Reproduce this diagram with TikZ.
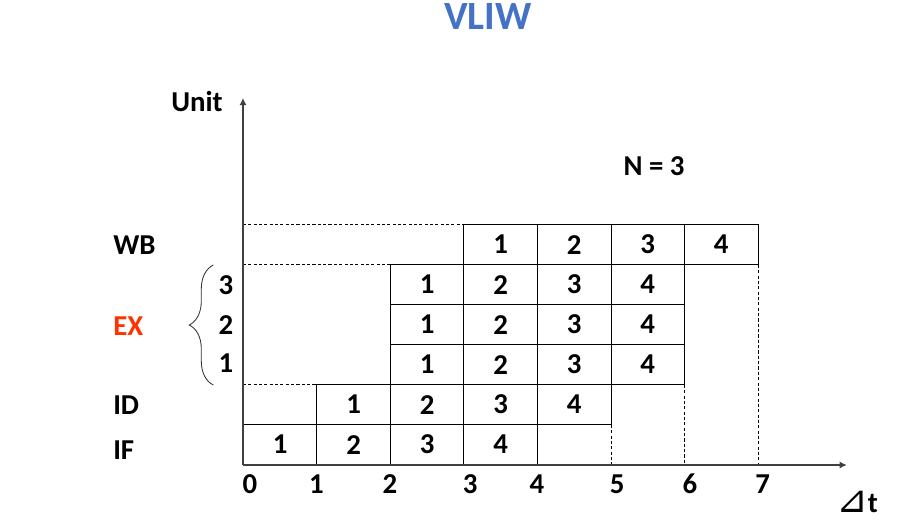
\documentclass[tikz,border=0pt]{standalone}
\usepackage{fontspec}
\setmainfont{Carlito}
\newfontfamily\symfont{DejaVu Sans}
\usepackage{tikz}
\usetikzlibrary{positioning, arrows.meta, decorations.pathreplacing}
\definecolor{titleblue}{RGB}{68,114,196}
\definecolor{exred}{RGB}{255,51,0}

\begin{document}
\begin{tikzpicture}[x=1.8375cm, y=1cm,
    cell/.style={draw, line width=0.6pt, minimum width=1.8375cm, minimum height=1cm, inner sep=0pt, anchor=south west, font=\fontsize{20.5}{24}\selectfont\bfseries},
    txt/.style={font=\fontsize{20.5}{24}\selectfont\bfseries, inner sep=0pt},
    guide/.style={line width=0.5pt, dash pattern=on 2.2pt off 1.6pt},
    axis/.style={line width=0.9pt, black!75, -{Latex[length=1.8mm,width=1.8mm]}}]
  \useasboundingbox (-3.3061,-1.575) rectangle (8.9932,11.625);
  \coordinate (O) at (0,0);
  \coordinate (xend) at (8.214,0);
  \coordinate (yend) at (0,9.175);

  % pipeline cells: stage/row/first column
  \foreach \s/\r/\c in {if/0/0, id/1/1, exa/2/2, exb/3/2, exc/4/2, wb/5/3}{
    \foreach \k in {1,...,4}{
      \node[cell] (\s\k) at (\c+\k-1,\r) {\k};
    }
  }

  % guides
  \draw[guide] (O |- wb1.north) -- (wb1.north west);
  \draw[guide] (O |- exc1.north) -- (exc1.north west);
  \draw[guide] (O |- id1.north) -- (id1.north west);
  \draw[guide] (id4.south east) -- (id4.south east |- O);
  \draw[guide] (exa4.south east) -- (exa4.south east |- O);
  \draw[guide] (wb4.south east) -- (wb4.south east |- O);

  % axes
  \draw[axis] (O) -- (xend);
  \draw[axis] (O) -- (yend);
  \foreach \t/\xx in {0/0.095, 1/1, 2/2, 3/3.09, 4/4, 5/5.09, 6/6.08, 7/7.07}
    \node[txt] (tick\t) at (\xx,-0.475) {\t};
  \node[txt] (dt) at (8.354,-0.918) {{\symfont\mdseries\fontsize{27}{30}\selectfont ⊿}t};
  \node[txt] (unit) at (-0.626,9.075) {Unit};

  % stage names
  \node[txt, anchor=west] (wb) at (-1.769,5.5) {WB};
  \node[txt, anchor=west, text=exred] (ex) at (-1.769,3.46) {EX};
  \node[txt, anchor=west] (id) at (-1.769,1.5) {ID};
  \node[txt, anchor=west] (if) at (-1.769,0.375) {IF};

  % EX units
  \coordinate (brbot) at (-0.404,2);
  \coordinate (brtop) at (-0.404,5);
  \draw[line width=0.6pt, black!80, decorate, decoration={brace, amplitude=0.6cm}] (brbot) -- (brtop);
  \foreach \u/\yy in {1/2.55, 2/3.5, 3/4.5}
    \node[txt] (unit\u) at (-0.231,\yy) {\u};

  \node[txt] (n) at (5.592,7.46) {N = 3};
  \node[txt, font=\fontsize{28.5}{34}\selectfont\bfseries, text=titleblue] (title) at (3.333,11.22) {VLIW};
\end{tikzpicture}
\end{document}
